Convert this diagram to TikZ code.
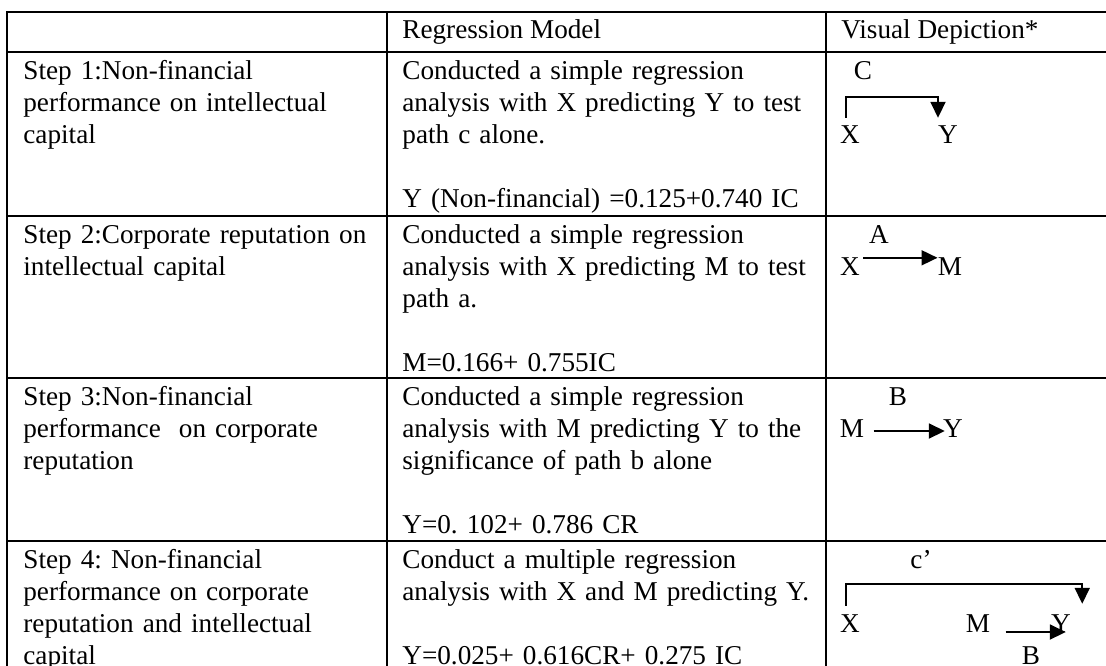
\documentclass[tikz,border=0pt]{standalone}
\usepackage{fontspec}
\setmainfont{Liberation Serif}
\usetikzlibrary{arrows.meta}
\frenchspacing
\begin{document}
\begin{tikzpicture}[x=0.5pt,y=-0.5pt,
  cell/.style={anchor=base west,inner sep=0pt,align=left,font=\fontsize{13.6}{16}\selectfont},
  lbl/.style={anchor=base,inner sep=0pt,font=\fontsize{13.6}{16}\selectfont},
  arr/.style={line width=0.9pt,-{Triangle[length=8pt,width=7.5pt]}}]
\useasboundingbox (0,0) rectangle (1106,665);
% table rules
\foreach \y in {12,52,216,378,541}
\draw[line width=1pt,line cap=rect] (7,\y) -- (1106,\y);
\foreach \x in {7,387,826}
\draw[line width=1pt,line cap=rect] (\x,12) -- (\x,665);
% header
\node[cell] (hmodel) at (402,38) {Regression Model};
\node[cell] (hvisual) at (841,38) {Visual Depiction*};
% steps
\node[cell,text width=180pt] (step1) at (23,79) {Step 1:Non-financial\\performance on intellectual\\capital};
\node[cell,text width=180pt] (step2) at (23,243) {Step 2:Corporate reputation on\\intellectual capital};
\node[cell,text width=180pt] (step3) at (23,405) {Step 3:Non-financial\\performance \ on corporate\\reputation};
\node[cell,text width=180pt] (step4) at (23,568) {Step 4: Non-financial\\performance on corporate\\reputation and intellectual\\capital};
% regression models
\node[cell,text width=210pt] (model1) at (402,79) {Conducted a simple regression\\analysis with X predicting Y to test\\path c alone.\\[16pt]Y (Non-financial) =0.125+0.740 IC};
\node[cell,text width=210pt] (model2) at (402,243) {Conducted a simple regression\\analysis with X predicting M to test\\path a.\\[16pt]M=0.166+ 0.755IC};
\node[cell,text width=210pt] (model3) at (402,405) {Conducted a simple regression\\analysis with M predicting Y to the\\significance of path b alone\\[16pt]Y=0. 102+ 0.786 CR};
\node[cell,text width=210pt] (model4) at (402,568) {Conduct a multiple regression\\analysis with X and M predicting Y.\\[16pt]Y=0.025+ 0.616CR+ 0.275 IC};
% step 1: path c
\node[lbl] (c1) at (863,79) {C};
\node[lbl] (x1) at (850,143) {X};
\node[lbl] (y1) at (948,143) {Y};
\draw[arr] ([shift={(-2pt,3.5pt)}]x1.north) -- ++(0pt,10.5pt) -| ([shift={(-5pt,3.5pt)}]y1.north);
% step 2: path a
\node[lbl] (a2) at (879,243) {A};
\node[lbl] (x2) at (850,275) {X};
\node[lbl] (m2) at (950,275) {M};
\draw[arr] ([xshift=1.5pt,yshift=-0.5pt]x2.north east) -- ([yshift=-0.5pt]m2.north west);
% step 3: path b
\node[lbl] (b3) at (898,405) {B};
\node[lbl] (m3) at (852,437) {M};
\node[lbl] (y3) at (953,437) {Y};
\draw[arr] ([shift={(4.5pt,3pt)}]m3.base east) -- ([shift={(1pt,3pt)}]y3.base west);
% step 4: path c' and b
\node[lbl] (c4) at (921,568) {c’};
\node[lbl] (x4) at (850,632) {X};
\node[lbl] (m4) at (978,632) {M};
\node[lbl] (y4) at (1061,632) {Y};
\node[lbl] (b4) at (1031,664) {B};
\draw[arr] ([shift={(-2pt,4pt)}]x4.north) -- ++(0pt,11pt) -| ([shift={(5.5pt,5pt)}]y4.north east);
\draw[arr] ([xshift=7.5pt]m4.base east) -- ([xshift=7.5pt]y4.base west);
\end{tikzpicture}
\end{document}
